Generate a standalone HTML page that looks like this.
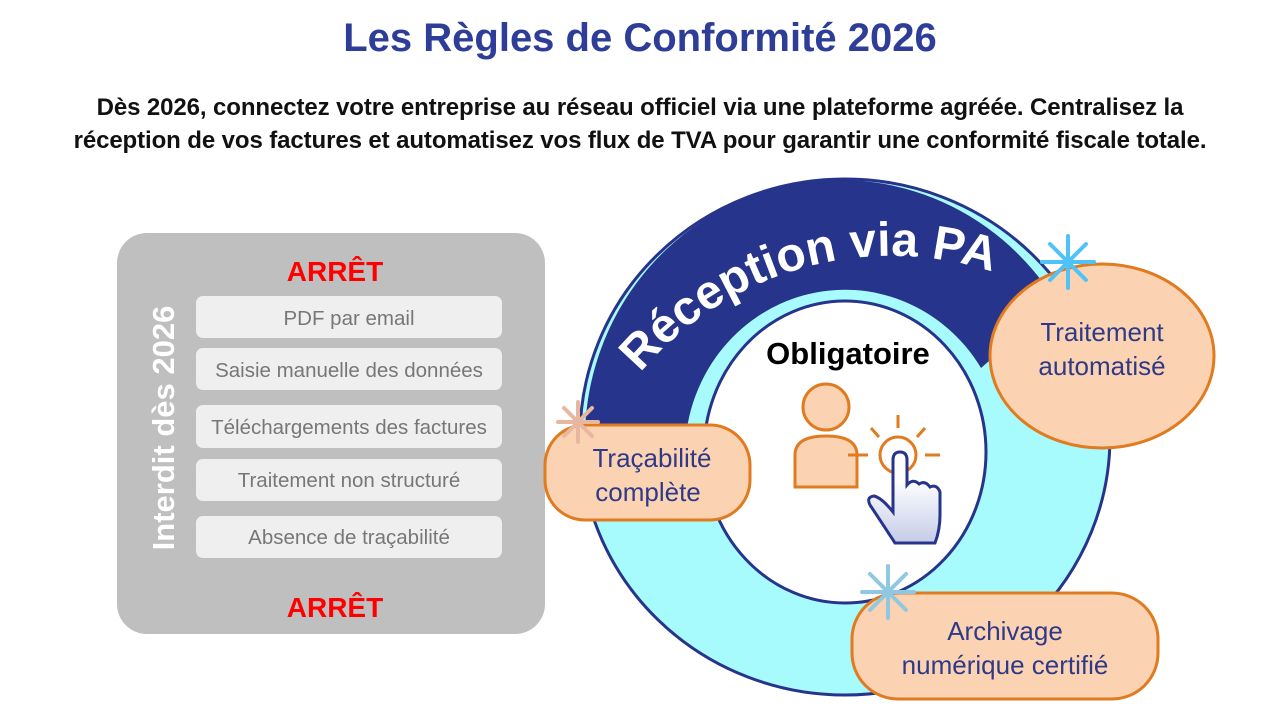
<!DOCTYPE html>
<html><head><meta charset="utf-8"><style>
body{margin:0;width:1280px;height:720px;background:#fff;overflow:hidden;font-family:"Liberation Sans",sans-serif;position:relative}
.t{position:absolute;left:0;width:1280px;text-align:center}
</style></head><body>
<div class="t" style="top:16px;font-size:40px;font-weight:bold;color:#2e3d98">Les Règles de Conformité 2026</div>
<div class="t" style="top:91px;font-size:24px;font-weight:bold;color:#111;line-height:33px;letter-spacing:-0.1px">Dès 2026, connectez votre entreprise au réseau officiel via une plateforme agréée. Centralisez la<br>réception de vos factures et automatisez vos flux de TVA pour garantir une conformité fiscale totale.</div>
<svg width="1280" height="720" style="position:absolute;left:0;top:0" font-family="Liberation Sans, sans-serif">
<defs>
<linearGradient id="hg" x1="0" y1="0" x2="0" y2="1"><stop offset="0.3" stop-color="#fff"/><stop offset="1" stop-color="#c5cbe8"/></linearGradient>
<path id="tp" d="M 569 526 A 327 327 0 0 1 1134 364"/>
</defs>
<!-- left panel -->
<rect x="117" y="233" width="428" height="401" rx="30" fill="#bfbfbf"/>
<text x="335" y="281" text-anchor="middle" font-size="28" font-weight="bold" fill="#ff0000">ARRÊT</text>
<text x="335" y="617" text-anchor="middle" font-size="28" font-weight="bold" fill="#ff0000">ARRÊT</text>
<text transform="translate(174,428) rotate(-90)" text-anchor="middle" font-size="31" font-weight="bold" fill="#fff">Interdit dès 2026</text>
<g fill="#efefef"><rect x="196" y="296" width="306" height="42" rx="7"/><rect x="196" y="348" width="306" height="42" rx="7"/><rect x="196" y="405" width="306" height="43" rx="7"/><rect x="196" y="459" width="306" height="42" rx="7"/><rect x="196" y="516" width="306" height="42" rx="7"/></g>
<g font-size="20.5" fill="#777" text-anchor="middle"><text x="349" y="325">PDF par email</text><text x="349" y="377">Saisie manuelle des données</text><text x="349" y="434">Téléchargements des factures</text><text x="349" y="487">Traitement non structuré</text><text x="349" y="544">Absence de traçabilité</text></g>
<!-- ring -->
<ellipse cx="845" cy="437" rx="265" ry="258" fill="#a7fbfd" stroke="#27348b" stroke-width="3"/>
<ellipse cx="845" cy="452" rx="141" ry="151" fill="#fff" stroke="#27348b" stroke-width="3"/>
<path d="M 585 431 A 255 260 0 0 1 1056 302 L 981 368 A 160 165 0 0 0 685 449 Z" fill="#27348b"/>
<text font-size="48" font-weight="bold" fill="#fff"><textPath href="#tp" startOffset="50%" text-anchor="middle">Réception via PA</textPath></text>
<text x="848" y="364" text-anchor="middle" font-size="31" font-weight="bold" fill="#000">Obligatoire</text>
<!-- person icon -->
<g stroke="#e07b20" stroke-width="3" fill="#fcd3b2">
<circle cx="826" cy="407" r="23"/>
<path d="M795 487 V455 Q795 436 826 436 Q857 436 857 455 V487 Z"/>
<circle cx="898" cy="455" r="18" fill="none"/>
<path d="M898 415 V428 M871 428 L879 437 M925 428 L917 437 M848 455 H868 M925 455 H940" fill="none"/>
</g>
<path d="M893 460 Q893 452 900 452 Q907 452 907 460 V485 Q913 478 919 484 Q925 480 930 487 Q937 484 940 492 V515 Q940 530 935 543 H895 Q880 520 870 505 Q866 497 874 496 Q882 498 893 512 Z" fill="url(#hg)" stroke="#27348b" stroke-width="3"/>
<!-- blobs -->
<g fill="#fcd3b2" stroke="#e07b20" stroke-width="3">
<ellipse cx="1102" cy="356" rx="112" ry="92"/>
<rect x="545" y="425" width="205" height="95" rx="40"/>
<rect x="852" y="593" width="306" height="106" rx="46"/>
</g>
<g font-size="26" fill="#2e3a87" text-anchor="middle">
<text x="1102" y="341">Traitement</text><text x="1102" y="375">automatisé</text>
<text x="652" y="467">Traçabilité</text><text x="648" y="501">complète</text>
<text x="1005" y="640">Archivage</text><text x="1005" y="674">numérique certifié</text>
</g>
<!-- stars -->
<g stroke-width="4" stroke-linecap="round">
<g stroke="#4fc3f7" transform="translate(1068,262)"><path d="M0 -26V26M-26 0H26M-18 -18L18 18M18 -18L-18 18"/></g>
<g stroke="#e8b7a0" transform="translate(578,422)"><path d="M0 -20V20M-20 0H20M-14 -14L14 14M14 -14L-14 14"/></g>
<g stroke="#8fc8e0" transform="translate(888,592)"><path d="M0 -26V26M-26 0H26M-18 -18L18 18M18 -18L-18 18"/></g>
</g>
</svg>
</body></html>
